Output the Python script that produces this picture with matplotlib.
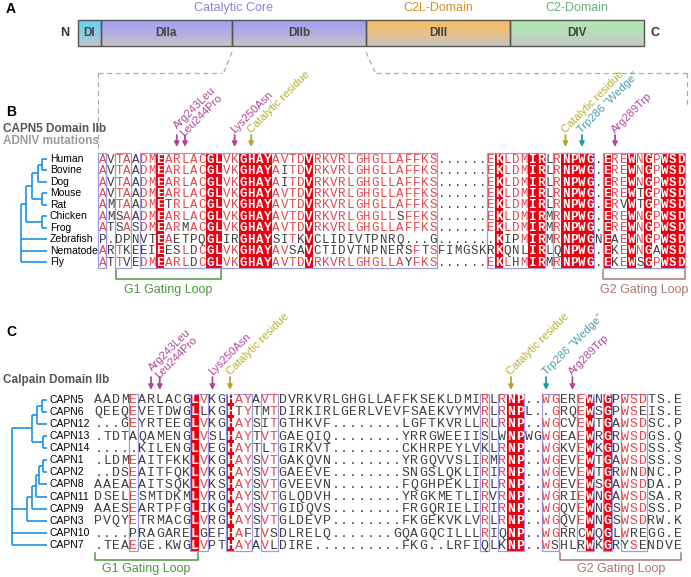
import matplotlib
matplotlib.use('Agg')
import matplotlib.pyplot as plt
import numpy as np
from collections import Counter
from matplotlib.patches import Rectangle
from matplotlib.colors import to_rgb

# ---- panel A: domain architecture
domain_names = ['DI', 'DIIa', 'DIIb', 'DIII', 'DIV']
domain_edges = [78, 101, 232, 366, 510, 644]
domain_colors = ['#6ccff2', '#a7a0f0', '#a7a0f0', '#f7bd68', '#b3e8b3']
group_names = ['Catalytic Core', 'C2L-Domain', 'C2-Domain']
group_spans = [(1, 2), (3, 3), (4, 4)]
group_colors = ['#8c85d9', '#d4902c', '#6cb07c']

# ---- panel B: CAPN5 orthologues
b_species = ['Human', 'Bovine', 'Dog', 'Mouse', 'Rat', 'Chicken', 'Frog',
             'Zebrafish', 'Nematode', 'Fly']
b_seqs = [
    'AVTAADMEARLACGLVKGHAYAVTDVRKVRLGHGLLAFFKS......EKLDMIRLRNPWG.EREWNGPWSD',
    'AVTAADMEARLACGLVKGHAYAITDVRKVRLGHGLLAFFKS......EKLDMIRLRNPWG.EREWNGPWSD',
    'AVTAADMEARLACGLVKGHAYAITDVRKVRLGHGLLAFFKS......EKLDMIRLRNPWG.EREWNGPWSD',
    'AVTAADMEARLACGLVKGHAYAVTDVRKVRLGHGLLAFFKS......EKLDMIRLRNPWG.EREWTGPWSD',
    'AMTAADMETRLACGLVKGHAYAVTDVRKVRLGHGLLAFFKS......EKLDMIRLRNPWG.ERVWTGPWSD',
    'AMSAADMEARLACGLVKGHAYAVTDVRKVRLGHGLLSFFKS......EKLDMIRMRNPWG.EREWNGPWSD',
    'ATSASDMEARMACGLVKGHAYAVTDVRKVRLGHGLLAFFKS......EKLDMIRMRNPWG.EREWNGPWSD',
    'P.DPNVTEAETPQGLIRGHAYSITKVCLIDIVTPNRQ...G.......KIPMIRMRNPWGNEAEWNGPWSD',
    'ARTKEEIEESLDCGLVKGHAYAVSAVCTIDVTNPNERSFTSFIMGSKRKQNLIRLQNPWG.EKEWNGAWSD',
    'ATTVEDMEARLDCGLVKGHAYAVTDVRKVRLGHGLLAYFKS......EKLHMIRMRNPWG.EKEWSGPWSD',
]
b_boxes = [(1, 1), (3, 4), (6, 41), (48, 54), (56, 60), (62, 71)]
b_tree = (20.7, [(26.0, [(31.7, [(37.7, [(41.7, [0, 1]), 2]), (41.7, [3, 4])]),
                         (41.7, [5, 6])]), 7, 8, 9])
b_marks = [('Arg243Leu\nLeu244Pro', [10, 11], 'mut'),
           ('Lys250Asn', [17], 'mut'),
           ('Catalytic residue', [19], 'cat'),
           ('Catalytic residue', [57], 'cat'),
           ('Trp286 \u201cWedge\u201d', [59], 'wedge'),
           ('Arg289Trp', [63], 'mut')]
b_loops = [('G1 Gating Loop', 3, 15, 'g1'), ('G2 Gating Loop', 62, 71, 'g2')]

# ---- panel C: calpain paralogues
c_names = ['CAPN5', 'CAPN6', 'CAPN12', 'CAPN13', 'CAPN14', 'CAPN1', 'CAPN2',
           'CAPN8', 'CAPN11', 'CAPN9', 'CAPN3', 'CAPN10', 'CAPN7']
c_seqs = [
    'AADMEARLACGLVKGHAYAVTDVRKVRLGHGLLAFFKSEKLDMIRLRNP..WGEREWNGPWSDTS.E',
    'QEEQEVETDWGLLKGHTYTMTDIRKIRLGERLVEVFSAEKVYMVRLRNPL..GRQEWSGPWSEIS.E',
    '...GEYRTEEGLVKGHAYSITGTHKVF........LGFTKVRLLRLRNP..WGCVEWTGAWSDSC.P',
    '.TDTAQAMENGLVSLHAYTVTGAEQIQ........YRRGWEEIISLWNPWGWGEAEWRGRWSDGS.Q',
    '.....KILENGLVEGHAYTLTGIRKVT........CKHRPEYLVKLRNP..WGKVEWKGDWSDSS.S',
    '.LDMEAITFKKLVKGHAYSVTGAKQVN........YRGQVVSLIRMRNP..WGEVEWTGAWSDSS.S',
    '..DSEAITFQKLVKGHAYSVTGAEEVE........SNGSLQKLIRIRNP..WGEVEWTGRWNDNC.P',
    'AAEAEAITSQKLVKSHAYSVTGVEEVN........FQGHPEKLIRLRNP..WGEVEWSGAWSDDA.P',
    'DSELESMTDKMLVRGHAYSVTGLQDVH........YRGKMETLIRVRNP..WGRIEWNGAWSDSA.R',
    'AAESEARTPFGLIKGHAYSVTGIDQVS........FRGQRIELIRIRNP..WGQVEWNGSWSDSS.P',
    'PVQYETRMACGLVRGHAYSVTGLDEVP........FKGEKVKLVRLRNP..WGQVEWNGSWSDRW.K',
    '....PRAGARELGEFHAFIVSDLRELQ.......GQAGQCILLLRIQNP..WGRRCWQGLWREGG.E',
    '.TEAEGE.KWGLVPTHAYAVLDIRE..........FKG..LRFIQLKNP..WSHLRWKGRYSENDVE',
]
c_boxes = [(5, 5), (12, 13), (16, 18), (20, 21), (45, 45), (47, 49), (52, 53),
           (56, 57), (59, 59), (61, 63)]
c_tree = (12.3, [(32.5, [(37.0, [(42.0, [0, 1]), 2]), (43.0, [3, 4])]),
                 (26.7, [(31.7, [(36.0, [(39.5, [(43.0, [5, 6]), 7]), 8]), 9]), 10]),
                 11, 12])
c_marks = [('Arg243Leu\nLeu244Pro', [7, 8], 'mut'),
           ('Lys250Asn', [14], 'mut'),
           ('Catalytic residue', [16], 'cat'),
           ('Catalytic residue', [48], 'cat'),
           ('Trp286 \u201cWedge\u201d', [52], 'wedge'),
           ('Arg289Trp', [55], 'mut')]
c_loops = [('G1 Gating Loop', 1, 12, 'g1'), ('G2 Gating Loop', 54, 67, 'g2')]

RED = '#ea0010'
RED_TXT = '#e5484c'
GRAY_TXT = '#404040'
BOX = '#9c9ce6'
TREE = '#1d90e6'
MARK_ARROW = {'mut': '#b0469b', 'cat': '#b3a52a', 'wedge': '#1a9ba0'}
MARK_TEXT = {'mut': '#b0469b', 'cat': '#b8ae2e', 'wedge': '#4a9ea5'}
LOOP_COL = {'g1': '#4f9444', 'g2': '#ad7575'}
SANS = 'Liberation Sans'
MONO = 'Liberation Mono'

fig = plt.figure(figsize=(6.91, 5.77), dpi=100)
ax = fig.add_axes([0, 0, 1, 1])


def draw_domains():
    top, bot = 20, 46
    for i, name in enumerate(domain_names):
        x0, x1 = domain_edges[i], domain_edges[i + 1]
        c0 = np.array(to_rgb(domain_colors[i]))
        c1 = np.array(to_rgb('#c6c6c6'))
        t = np.linspace(0, 1, 40)[:, None]
        grad = (c0 * (1 - t ** 1.5) + c1 * t ** 1.5)[:, None, :]
        ax.imshow(grad, extent=(x0, x1, bot, top), origin='upper', aspect='auto', zorder=1)
        ax.add_patch(Rectangle((x0, top), x1 - x0, bot - top, fill=False, ec='#555555', lw=1, zorder=2))
        ax.text((x0 + x1) / 2, (top + bot) / 2, name, ha='center', va='center', fontsize=8.5,
                color='#444444', family=SANS, fontweight='bold')
    ax.text(65, 33, 'N', ha='center', va='center', fontsize=9, fontweight='bold', color='#333333', family=SANS)
    ax.text(655, 33, 'C', ha='center', va='center', fontsize=9, fontweight='bold', color='#333333', family=SANS)
    for name, (a, b), col in zip(group_names, group_spans, group_colors):
        ax.text((domain_edges[a] + domain_edges[b + 1]) / 2, 8, name, ha='center', va='center',
                fontsize=9, color=col, family=SANS)
    # dashed zoom lines
    dash = dict(color='#aaaaaa', lw=0.9, ls=(0, (4, 3)))
    ax.plot([232, 224], [52, 72], **dash)
    ax.plot([366, 375], [52, 72], **dash)
    ax.plot([98, 222], [73, 73], **dash)
    ax.plot([376, 687], [73, 73], **dash)
    ax.plot([98, 98], [73, 148], **dash)
    ax.plot([687, 687], [73, 108], **dash)


def draw_tree(node, ys, tip_x):
    if isinstance(node, int):
        return ys[node]
    x, kids = node
    kid_y = []
    for k in kids:
        y = draw_tree(k, ys, tip_x)
        kx = tip_x if isinstance(k, int) else k[0]
        ax.plot([x, kx], [y, y], color=TREE, lw=1.2, solid_capstyle='butt')
        kid_y.append(y)
    ax.plot([x, x], [min(kid_y), max(kid_y)], color=TREE, lw=1.2, solid_capstyle='butt')
    return (min(kid_y) + max(kid_y)) / 2


def draw_alignment(seqs, boxes, x0, dx, y0, dy, fs):
    n, L = len(seqs), len(seqs[0])
    top, bot = y0 - dy / 2, y0 + (n - 0.5) * dy
    cons = [len(set(s[j] for s in seqs)) == 1 for j in range(L)]
    j = 0
    while j < L:
        if cons[j]:
            k = j
            while k + 1 < L and cons[k + 1]:
                k += 1
            ax.add_patch(Rectangle((x0 + (j - 0.5) * dx, top), (k - j + 1) * dx, bot - top,
                                   fc=RED, ec='none', zorder=1))
            j = k + 1
        else:
            j += 1
    boxed = set()
    for a, b in boxes:
        ax.add_patch(Rectangle((x0 + (a - 1.5) * dx, top), (b - a + 1) * dx, bot - top,
                               fill=False, ec=BOX, lw=0.9, zorder=2))
        boxed.update(range(a - 1, b))
    for j in range(L):
        col = [s[j] for s in seqs]
        maj = Counter(c for c in col if c != '.').most_common(1)[0][0]
        for i, ch in enumerate(col):
            if cons[j]:
                color, weight = 'white', 'bold'
            elif j in boxed and ch == maj:
                color, weight = RED_TXT, 'normal'
            else:
                color, weight = GRAY_TXT, 'normal'
            ax.text(x0 + j * dx, y0 + i * dy + 3.6, ch, ha='center', va='baseline', fontsize=fs,
                    color=color, fontweight=weight, family=MONO, zorder=3)
    return bot


def draw_marks(marks, x0, dx, y_top, y_bot):
    for label, cols, kind in marks:
        xs = [x0 + (c - 1) * dx for c in cols]
        for x in xs:
            ax.annotate('', xy=(x, y_bot), xytext=(x, y_top),
                        arrowprops=dict(arrowstyle='-|>', color=MARK_ARROW[kind], lw=1.3,
                                        mutation_scale=7, shrinkA=0, shrinkB=0))
        xm = np.mean(xs)
        ax.text(xm - 2, y_top - 4, label, rotation=45, rotation_mode='anchor', ha='left',
                va='center', fontsize=8, color=MARK_TEXT[kind], family=SANS, linespacing=0.95)


def draw_loops(loops, x0, dx, y_a, y_b, y_txt):
    for label, a, b, kind in loops:
        xa, xb = x0 + (a - 1.4) * dx, x0 + (b - 0.6) * dx
        ax.plot([xa, xa, xb, xb], [y_a, y_b, y_b, y_a], color=LOOP_COL[kind], lw=1.1)
        ax.text((xa + xb) / 2, y_txt, label, ha='center', va='center', fontsize=9,
                color=LOOP_COL[kind], family=SANS)


draw_domains()
ax.text(6, 9, 'A', fontsize=10, fontweight='bold', family=SANS, va='center')

# panel B
ax.text(6, 112, 'B', fontsize=10, fontweight='bold', family=SANS, va='center')
ax.text(3, 129, 'CAPN5 Domain IIb', fontsize=8.5, fontweight='bold', color='#555555', family=SANS, va='center')
ax.text(3, 141, 'ADNIV mutations', fontsize=8.5, fontweight='bold', color='#9b9b9b', family=SANS, va='center')
bx0, bdx, by0, bdy = 102.3, 8.27, 159.0, 11.45
b_rows = [by0 + i * bdy for i in range(len(b_species))]
for name, y in zip(b_species, b_rows):
    ax.text(50, y, name, fontsize=7.5, family=SANS, va='center', ha='left')
draw_tree(b_tree, b_rows, 47)
draw_alignment(b_seqs, b_boxes, bx0, bdx, by0, bdy, 9)
draw_marks(b_marks, bx0, bdx, 135, 147)
draw_loops(b_loops, bx0, bdx, 270, 279, 290)

# panel C
ax.text(6, 332, 'C', fontsize=10, fontweight='bold', family=SANS, va='center')
ax.text(3, 380, 'Calpain Domain IIb', fontsize=8.5, fontweight='bold', color='#555555', family=SANS, va='center')
cx0, cdx, cy0, cdy = 98.3, 8.78, 399.6, 12.12
c_rows = [cy0 + i * cdy for i in range(len(c_names))]
for name, y in zip(c_names, c_rows):
    ax.text(50, y, name, fontsize=7.5, family=SANS, va='center', ha='left')
draw_tree(c_tree, c_rows, 47)
draw_alignment(c_seqs, c_boxes, cx0, cdx, cy0, cdy, 9.5)
draw_marks(c_marks, cx0, cdx, 377, 390)
draw_loops(c_loops, cx0, cdx, 553, 560, 569)

ax.set_xlim(0, 691)
ax.set_ylim(577, 0)
ax.axis('off')
fig.savefig('out.png', dpi=100)
